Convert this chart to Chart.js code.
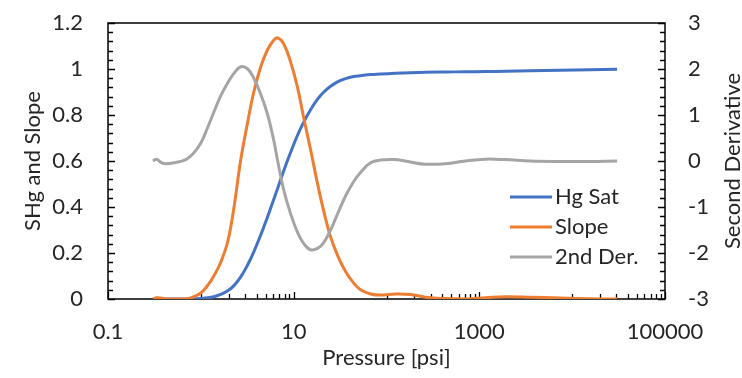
<!DOCTYPE html>
<html>
<head>
<meta charset="utf-8">
<script src="https://cdn.jsdelivr.net/npm/chart.js@4.4.1/dist/chart.umd.min.js"></script>
<style>
html, body { margin: 0; padding: 0; background: #fff; }
</style>
</head>
<body>
<canvas id="chart" width="742" height="378"></canvas>
<script>
// pressure [psi]
const pressure = [0.305, 0.336, 0.371, 0.421, 0.538, 0.69, 0.82, 1.0, 1.19, 1.38,
  1.64, 1.95, 2.26, 2.69, 3.2, 3.72, 4.42, 5.25, 6.1, 6.73,
  7.8, 9.28, 11.0, 12.8, 15.2, 18.1, 21.0, 25.0, 29.7, 36.2,
  44.2, 52.5, 67.3, 86.1, 125, 181, 262, 431, 707, 1160,
  1900, 3530, 7430, 15600, 30500];
const hgSat = [0, 0, 0, 0, 0, 0, 0, 0.002, 0.005, 0.010,
  0.020, 0.036, 0.057, 0.096, 0.149, 0.205, 0.279, 0.359, 0.433, 0.482,
  0.557, 0.638, 0.712, 0.768, 0.823, 0.869, 0.899, 0.925, 0.944, 0.958,
  0.967, 0.971, 0.976, 0.978, 0.981, 0.984, 0.986, 0.987, 0.988, 0.989,
  0.990, 0.992, 0.995, 0.997, 0.999];
const slope = [0, 0.005, 0.004, 0, 0, 0, 0.008, 0.026, 0.06, 0.10,
  0.16, 0.25, 0.39, 0.605, 0.77, 0.90, 1.01, 1.085, 1.125, 1.135,
  1.11, 1.03, 0.92, 0.79, 0.65, 0.50, 0.385, 0.27, 0.19, 0.12,
  0.07, 0.04, 0.022, 0.017, 0.022, 0.02, 0.008, 0.002, 0, 0.005,
  0.01, 0.008, 0.004, 0.001, 0];
const secondDer = [0, 0.04, -0.03, -0.06, -0.03, 0.03, 0.15, 0.39, 0.74, 1.06,
  1.42, 1.70, 1.90, 2.05, 2.0, 1.80, 1.45, 1.0, 0.45, 0.0,
  -0.62, -1.15, -1.55, -1.79, -1.93, -1.90, -1.78, -1.50, -1.15, -0.76,
  -0.45, -0.25, -0.04, 0.02, 0.03, -0.02, -0.07, -0.06, 0, 0.04,
  0.03, 0, -0.01, -0.01, 0];
const seriesNames = ['Hg Sat', 'Slope', '2nd Der.'];
const seriesColors = ['#4472C4', '#ED7D31', '#A5A5A5'];
const xTicks = [0.1, 10, 1000, 100000];
const rightTitle = 'Second Derivative';

const FONT = 'Lato';
const TXT = '#262626';

function pts(vals) {
  return pressure.map((p, i) => ({ x: p, y: vals[i] }));
}

// box, inward tick marks, right title and in-plot legend, Excel style
const excelAxes = {
  id: 'excelAxes',
  beforeDatasetsDraw(chart) {
    const { ctx, chartArea: a, scales } = chart;
    ctx.save();
    ctx.strokeStyle = '#000';
    ctx.lineWidth = 1.5;
    ctx.strokeRect(a.left, a.top, a.right - a.left, a.bottom - a.top);
    ctx.lineWidth = 1.3;
    ctx.beginPath();
    // left axis: major 0.2, minor 0.04
    for (let i = 0; i <= 30; i++) {
      const y = Math.round(scales.y.getPixelForValue(i * 0.04)) + 0.5;
      const len = i % 5 === 0 ? 7 : 5;
      ctx.moveTo(a.left, y); ctx.lineTo(a.left + len, y);
    }
    // right axis: major 1, minor 0.2
    for (let i = 0; i <= 30; i++) {
      const y = Math.round(scales.y2.getPixelForValue(-3 + i * 0.2)) + 0.5;
      const len = i % 5 === 0 ? 7 : 5;
      ctx.moveTo(a.right, y); ctx.lineTo(a.right - len, y);
    }
    // x axis (log base 100): minor ticks at n*10 times each major
    for (let k = 0; k < xTicks.length; k++) {
      const xm = Math.round(scales.x.getPixelForValue(xTicks[k])) + 0.5;
      ctx.moveTo(xm, a.bottom); ctx.lineTo(xm, a.bottom - 7);
      if (k === xTicks.length - 1) break;
      for (let n = 1; n < 10; n++) {
        const x = Math.round(scales.x.getPixelForValue(xTicks[k] * 10 * n)) + 0.5;
        ctx.moveTo(x, a.bottom); ctx.lineTo(x, a.bottom - 5);
      }
    }
    ctx.stroke();
    ctx.restore();
  },
  afterDraw(chart) {
    const { ctx, chartArea: a } = chart;
    ctx.save();
    ctx.font = '22px ' + FONT;
    ctx.textBaseline = 'middle';
    ctx.textAlign = 'left';
    chart.data.datasets.forEach((ds, i) => {
      const y = a.top + 174 + i * 30;
      const x0 = a.right - 155;
      ctx.strokeStyle = ds.borderColor;
      ctx.lineWidth = 3;
      ctx.beginPath();
      ctx.moveTo(x0, y); ctx.lineTo(x0 + 42, y);
      ctx.stroke();
      ctx.fillStyle = TXT;
      ctx.fillText(ds.label, x0 + 45, y);
    });
    // right title reads bottom to top like Excel
    ctx.translate(733, (a.top + a.bottom) / 2);
    ctx.rotate(-Math.PI / 2);
    ctx.textAlign = 'center';
    ctx.fillText(rightTitle, 0, 0);
    ctx.restore();
  }
};

// keep the tick padding from pushing the plot area down
function fixY(width) {
  return s => { s.width = width; s.paddingTop = 0; s.paddingBottom = 0; };
}

new Chart(document.getElementById('chart').getContext('2d'), {
  type: 'line',
  data: {
    datasets: [
      { label: seriesNames[0], data: pts(hgSat), yAxisID: 'y', order: 2 },
      { label: seriesNames[1], data: pts(slope), yAxisID: 'y', order: 1 },
      { label: seriesNames[2], data: pts(secondDer), yAxisID: 'y2', order: 0 }
    ].map((d, i) => Object.assign(d, {
      borderColor: seriesColors[i],
      borderWidth: 3,
      pointRadius: 0,
      fill: false,
      tension: 0.4
    }))
  },
  options: {
    responsive: false,
    devicePixelRatio: 1,
    animation: false,
    layout: { padding: { top: 23, left: 0, right: 0, bottom: 0 } },
    plugins: { legend: { display: false }, tooltip: { enabled: false } },
    scales: {
      x: {
        type: 'logarithmic',
        position: 'bottom',
        min: 0.1,
        max: 100000,
        afterBuildTicks: s => { s.ticks = xTicks.map(v => ({ value: v })); },
        afterFit: s => { s.height = 79; },
        grid: { display: false, drawTicks: false },
        border: { display: false },
        ticks: {
          autoSkip: false, maxRotation: 0, padding: 20,
          color: TXT, font: { family: FONT, size: 22 },
          callback: v => String(v)
        },
        title: {
          display: true, text: 'Pressure [psi]', color: TXT,
          font: { family: FONT, size: 22, lineHeight: 1 },
          padding: { top: 0, bottom: 9 }
        }
      },
      y: {
        position: 'left',
        min: 0,
        max: 1.2,
        afterFit: fixY(108),
        grid: { display: false, drawTicks: false },
        border: { display: false },
        ticks: {
          stepSize: 0.2, padding: 25,
          color: TXT, font: { family: FONT, size: 22 },
          callback: v => String(+v.toFixed(1))
        },
        title: {
          display: true, text: 'SHg and Slope', color: TXT,
          font: { family: FONT, size: 22, lineHeight: 1 },
          padding: { top: 22, bottom: 0 }
        }
      },
      y2: {
        position: 'right',
        min: -3,
        max: 3,
        afterFit: fixY(77),
        grid: { display: false, drawTicks: false },
        border: { display: false },
        ticks: {
          stepSize: 1, padding: 23,
          color: TXT, font: { family: FONT, size: 22 },
          callback: v => String(v)
        }
      }
    }
  },
  plugins: [excelAxes]
});
</script>
</body>
</html>
